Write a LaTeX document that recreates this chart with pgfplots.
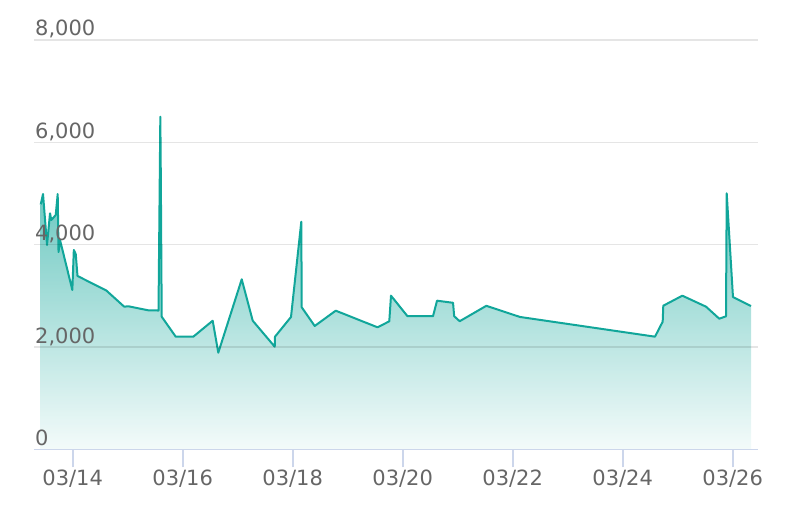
\documentclass[border=0pt]{standalone}
\usepackage{pgfplots}
\pgfplotsset{compat=1.18}
\usepackage{pgfplotstable}
\usepackage{fontspec}
\setmainfont{DejaVu Sans}
\definecolor{teal1}{HTML}{11A69A}
\definecolor{axisc}{HTML}{CCD6EB}
\definecolor{labc}{HTML}{666666}

\pgfplotstableread{
x y
13.418 4786
13.460 4991
13.533 3995
13.587 4614
13.611 4483
13.691 4581
13.727 4991
13.742 3858
13.770 4090
13.993 3116
14.020 3897
14.055 3819
14.087 3390
14.611 3106
14.936 2790
15.011 2798
15.375 2719
15.560 2715
15.593 6502
15.602 5323
15.618 2594
15.873 2204
16.193 2204
16.545 2516
16.647 1891
17.073 3325
17.273 2516
17.673 2008
17.678 2204
17.969 2589
18.156 4450
18.164 2778
18.400 2413
18.782 2712
19.542 2387
19.756 2504
19.787 3005
20.087 2604
20.551 2604
20.624 2907
20.915 2866
20.936 2604
21.036 2506
21.520 2807
22.133 2589
24.587 2204
24.727 2497
24.738 2809
25.084 3005
25.515 2790
25.756 2555
25.878 2602
25.891 5005
26.005 2979
26.333 2803
}\datatable

\begin{document}
\begin{tikzpicture}
\begin{axis}[
  axis on top,
  scale only axis,
  width=723.7pt, height=409.5pt,
  xmin=13.296, xmax=26.4545,
  ymin=0, ymax=8000,
  xtick={14,16,18,20,22,24,26},
  xticklabels={03/14,03/16,03/18,03/20,03/22,03/24,03/26},
  ytick={0,2000,4000,6000,8000},
  scaled y ticks=false,
  /pgf/number format/.cd, 1000 sep={,}, assume math mode=true,
  /pgfplots/.cd,
  ymajorgrids,
  grid style={black, draw opacity=0.1, line width=1.3pt},
  axis lines*=left,
  x axis line style={axisc, line width=1.6pt, -},
  y axis line style={draw=none},
  tick align=outside,
  major tick length=18pt,
  xtick style={axisc, line width=1.6pt},
  ytick style={draw=none},
  ticklabel style={font=\fontsize{21}{25}\selectfont, text=labc},
  xticklabel style={anchor=base, yshift=-18pt},
  yticklabel style={anchor=base west, inner sep=0pt, xshift=19pt, yshift=4pt},
  clip=false,
]
\addplot[draw=none, fill opacity=0.8, top color=teal1!97!white, bottom color=teal1!6!white] table[x=x,y=y] {\datatable} \closedcycle;
\addplot[teal1, line width=2pt, line join=round] table[x=x,y=y] {\datatable};
\end{axis}
\pgfresetboundingbox
\path[use as bounding box] (-34pt,-74.5pt) rectangle (754pt,449.5pt);
\end{tikzpicture}
\end{document}
